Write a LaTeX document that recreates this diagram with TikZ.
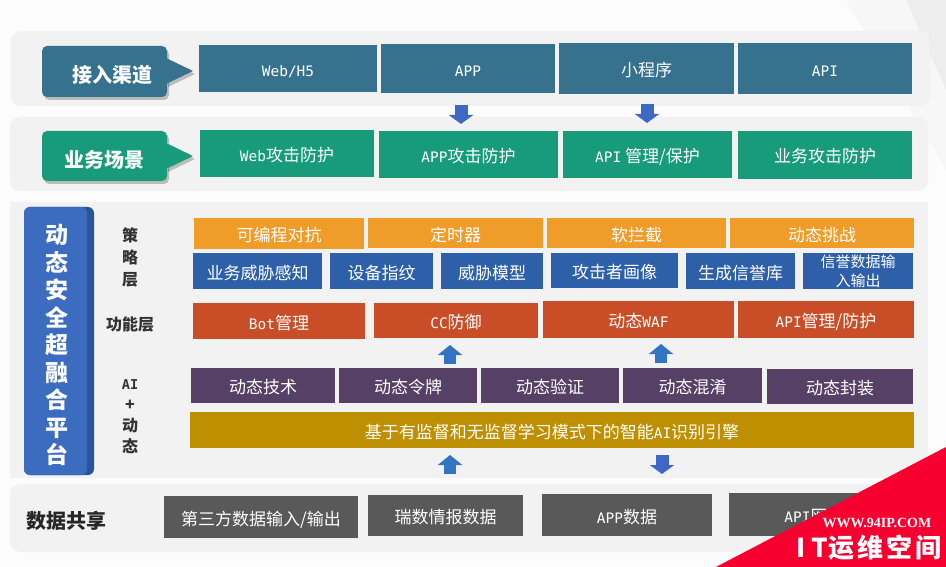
\documentclass[tikz,border=0pt]{standalone}
\usepackage{fontspec}
\setmainfont{Noto Sans CJK SC}
\newfontfamily\lat[Scale=0.85]{DejaVu Sans Mono}
\newfontfamily\wm{Liberation Serif}
\usetikzlibrary{arrows.meta}
\definecolor{bgc}{HTML}{FCFCFC}
\definecolor{band}{HTML}{F2F2F2}
\definecolor{cteal}{HTML}{36728E}
\definecolor{cgreen}{HTML}{189B7B}
\definecolor{corange}{HTML}{F09C28}
\definecolor{cblue}{HTML}{2E60A9}
\definecolor{cred}{HTML}{C94E27}
\definecolor{cpurple}{HTML}{574066}
\definecolor{cgold}{HTML}{BE8F00}
\definecolor{cgray}{HTML}{595959}
\definecolor{cpanel}{HTML}{3B6CBF}
\definecolor{cpaneld}{HTML}{2C5597}
\definecolor{cdown}{HTML}{3F68C4}
\definecolor{cup}{HTML}{3373C4}
\definecolor{cwm}{HTML}{F5002F}
\tikzset{
  x=1pt,y=-1pt,
  boxnode/.style={inner sep=0pt,outer sep=0pt,text=white,align=center,font=\fontsize{17}{20}\selectfont},
  sidelabel/.style={inner sep=0pt,text=black!80,font=\bfseries\fontsize{16}{18}\selectfont},
  downarrow/.style={draw=cdown,line width=13pt,-{Triangle[length=9pt,width=24pt]}},
  uparrow/.style={draw=cup,line width=12pt,-{Triangle[length=10pt,width=24pt]}},
  bandfill/.style={fill=band,rounded corners=10pt,draw=none},
  calloutlabel/.style={inner sep=0pt,text=white,font=\bfseries\fontsize{20}{22}\selectfont},
}
\newcommand\bx[7]{\node[boxnode,fill=#6,text height=18pt,text depth=2pt,minimum width={(#4-#2)*1pt},minimum height={(#5-#3)*1pt}] (#1) at ({(#2+#4)/2},{(#3+#5)/2}) {#7};}
\newcommand\calloutshape[4][]{%
  \fill[#4,#1,rounded corners=5pt] (42,#2) rectangle (167,#3);
  \fill[#4,#1] (166,#2+12) -- (193,#2+25) -- (166,#2+38) -- cycle;}
\begin{document}
\begin{tikzpicture}
\useasboundingbox (0,0) rectangle (946,567);
\fill[bgc] (0,0) rectangle (946,567);
\fill[white!97!black] (846,0) -- (946,0) -- (946,170) -- cycle;
\fill[white!93!black] (906,0) -- (946,0) -- (946,90) -- cycle;
% bands
\fill[bandfill] (11,31) rectangle (930,106);
\fill[bandfill] (10,117) rectangle (928,191);
\fill[band] (10,202) rectangle (928,478);
\fill[bandfill] (10,484) rectangle (928,552);
% callouts
\begin{scope}[shift={(2,3)}]
\calloutshape[opacity=.22]{46}{97}{black}
\calloutshape[opacity=.22]{131}{181}{black}
\end{scope}
\calloutshape{46}{97}{cteal}
\node[calloutlabel] (jieru) at (112,75) {接入渠道};
\calloutshape{131}{181}{cgreen}
\node[calloutlabel] (yewu) at (104,160) {业务场景};
% row 1
\bx{a1}{199}{45}{377}{92}{cteal}{\lat Web/H5}
\bx{a2}{381}{44}{555}{93}{cteal}{\lat APP}
\bx{a3}{559}{43}{734}{94}{cteal}{小程序}
\bx{a4}{738}{43}{912}{94}{cteal}{\lat API}
% row 2
\bx{b1}{200}{130}{374}{177}{cgreen}{{\lat Web}攻击防护}
\bx{b2}{379}{131}{558}{178}{cgreen}{{\lat APP}攻击防护}
\bx{b3}{563}{131}{732}{178}{cgreen}{{\lat API} 管理/保护}
\bx{b4}{738}{131}{912}{179}{cgreen}{业务攻击防护}
% arrows row1-2
\coordinate (d1s) at (461,105); \coordinate (d1e) at (461,124);
\coordinate (d2s) at (647,104); \coordinate (d2e) at (647,123);
\draw[downarrow] (d1s) -- (d1e);
\draw[downarrow] (d2s) -- (d2e);
% panel
\fill[cpaneld,rounded corners=6pt] (24,207) rectangle (94,475);
\fill[cpanel,rounded corners=6pt] (24,207) rectangle (87,475);
\node[inner sep=0pt,text=white,align=center,font=\bfseries\fontsize{23}{27.5}\selectfont] (plat) at (57,345) {动\\态\\安\\全\\超\\融\\合\\平\\台};
\node[sidelabel,align=center,font=\bfseries\fontsize{16}{22}\selectfont] (l1) at (130,257) {策\\略\\层};
\node[sidelabel] (l2) at (130,324) {功能层};
\node[sidelabel,align=center,font=\bfseries\fontsize{16}{21}\selectfont] (l3) at (130,417) {{\lat\bfseries AI}\\+\\动\\态};
% orange
\bx{c1}{194}{218}{364}{249}{corange}{可编程对抗}
\bx{c2}{368}{218}{543}{248}{corange}{定时器}
\bx{c3}{547}{218}{726}{248}{corange}{软拦截}
\bx{c4}{730}{218}{914}{248}{corange}{动态挑战}
% blue
\bx{e1}{193}{253}{322}{289}{cblue}{业务威胁感知}
\bx{e2}{330}{253}{433}{289}{cblue}{设备指纹}
\bx{e3}{441}{253}{543}{289}{cblue}{威胁模型}
\bx{e4}{551}{253}{678}{288}{cblue}{攻击者画像}
\bx{e5}{686}{253}{795}{289}{cblue}{生成信誉库}
\node[boxnode,fill=cblue,minimum width=110pt,minimum height=36pt,font=\fontsize{15}{19}\selectfont] (e6) at (858,271) {信誉数据输\\入输出};
% red
\bx{f1}{193}{303}{365}{339}{cred}{{\lat Bot}管理}
\bx{f2}{374}{303}{538}{338}{cred}{{\lat CC}防御}
\bx{f3}{543}{301}{734}{338}{cred}{动态{\lat WAF}}
\bx{f4}{738}{301}{914}{338}{cred}{{\lat API}管理/防护}
% arrows
\coordinate (u1s) at (450,364); \coordinate (u1e) at (450,345);
\coordinate (u2s) at (661,363); \coordinate (u2e) at (661,344);
\draw[uparrow] (u1s) -- (u1e);
\draw[uparrow] (u2s) -- (u2e);
% purple
\bx{g1}{191}{368}{335}{403}{cpurple}{动态技术}
\bx{g2}{339}{368}{477}{403}{cpurple}{动态令牌}
\bx{g3}{481}{368}{619}{403}{cpurple}{动态验证}
\bx{g4}{623}{368}{762}{403}{cpurple}{动态混淆}
\bx{g5}{767}{369}{913}{404}{cpurple}{动态封装}
% gold
\bx{h}{190}{412}{914}{448}{cgold}{基于有监督和无监督学习模式下的智能{\lat AI}识别引擎}
\coordinate (u3s) at (450,474); \coordinate (u3e) at (450,455);
\coordinate (d3s) at (662,455); \coordinate (d3e) at (662,474);
\draw[uparrow] (u3s) -- (u3e);
\draw[downarrow] (d3s) -- (d3e);
% data
\node[inner sep=0pt,text=black!85,font=\bfseries\fontsize{20}{22}\selectfont] (data) at (67,521) {数据共享};
\bx{k1}{164}{496}{358}{538}{cgray}{第三方数据输入/输出}
\bx{k2}{368}{495}{523}{536}{cgray}{瑞数情报数据}
\bx{k3}{542}{494}{712}{536}{cgray}{{\lat APP}数据}
\bx{k4}{729}{493}{900}{536}{cgray}{{\lat API}网关}
% watermark
\fill[cwm] (946,447) -- (946,567) -- (716,567) -- cycle;
\node[inner sep=0pt,text=white,font=\wm\bfseries\fontsize{14}{15}\selectfont] (w1) at (877,523) {WWW.94IP.COM};
\node[inner sep=0pt,text=white,font=\bfseries\fontsize{26}{28}\selectfont] (w2) at (869,548) {I\hspace{6pt}T运\hspace{3pt}维\hspace{3pt}空\hspace{3pt}间};
\end{tikzpicture}
\end{document}
